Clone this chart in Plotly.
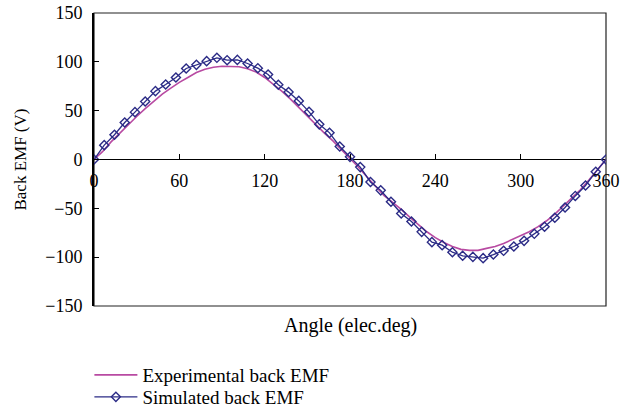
import plotly.graph_objects as go

# Simulated back EMF, sampled every 7.2 electrical degrees
sim_angle = [round(i * 7.2, 1) for i in range(51)]
sim_emf = [0, 14.7, 25.3, 37.9, 48.5, 59.4, 70.0, 76.8, 84.0, 93.2,
           96.9, 100.7, 104.1, 101.7, 102.0, 98.3, 93.5, 87.0, 76.5, 69.0,
           60.0, 48.8, 36.0, 27.3, 13.3, 2.7, -7.8, -23.0, -31.6, -43.3,
           -55.3, -63.5, -74.1, -84.6, -87.7, -94.9, -98.6, -99.7, -101.0, -97.3,
           -93.5, -89.1, -83.3, -76.1, -68.9, -59.7, -49.1, -37.3, -26.6, -12.6,
           0]

# Measured back EMF
exp_angle = list(range(0, 361, 6))
exp_emf = [0, 8, 18, 27, 36, 44, 52, 60, 67, 73,
           79, 84, 89, 92.5, 94.5, 95.5, 95.5, 95, 93, 89.5,
           84, 77, 70, 62, 53, 44, 36, 27, 19, 10,
           2, -8, -18, -28, -37, -44, -51, -59, -67, -74,
           -80, -85, -89, -92, -93, -93, -91, -89, -86, -82,
           -78, -74, -69, -63, -56, -48, -40, -31, -21, -10,
           0]

x_ticks = [0, 60, 120, 180, 240, 300, 360]
y_ticks = [-150, -100, -50, 0, 50, 100, 150]

FONT = "Liberation Serif"
MAGENTA = "#B84AA2"
NAVY = "#2B2B86"

fig = go.Figure()
fig.add_trace(go.Scatter(
    x=exp_angle, y=exp_emf, mode="lines", name="Experimental back EMF",
    line=dict(color=MAGENTA, width=1.6), legend="legend",
))
fig.add_trace(go.Scatter(
    x=sim_angle, y=sim_emf, mode="lines+markers", name="Simulated back EMF",
    line=dict(color=NAVY, width=1.3),
    marker=dict(symbol="diamond-open", size=7, color=NAVY, line=dict(width=1.4)),
    legend="legend2",
))

legend_common = dict(xanchor="left", yanchor="middle", bgcolor="rgba(0,0,0,0)",
                     font=dict(size=19), itemwidth=43)

fig.update_layout(
    width=620, height=414,
    margin=dict(l=94, r=14, t=13, b=108, autoexpand=False),
    paper_bgcolor="white", plot_bgcolor="white",
    font=dict(family=FONT, size=18, color="black"),
    showlegend=True,
    legend=dict(x=-0.009, y=-0.2355, **legend_common),
    legend2=dict(x=-0.009, y=-0.3106, **legend_common),
    xaxis=dict(
        range=[0, 360], tickvals=x_ticks, ticks="inside", ticklen=6,
        tickcolor="black", anchor="free", position=0.5,
        showgrid=False, zeroline=False, showline=False,
        ticklabelstandoff=8,
    ),
    yaxis=dict(
        range=[-150, 150], tickvals=y_ticks, ticks="inside", ticklen=5,
        tickcolor="black", showgrid=False, showline=True, linecolor="black",
        linewidth=2, zeroline=True, zerolinecolor="black", zerolinewidth=1.2,
        ticklabelstandoff=6,
    ),
    shapes=[dict(type="rect", xref="paper", yref="paper", x0=0, x1=1, y0=0, y1=1,
                 line=dict(color="#222", width=1.2), layer="below")],
    annotations=[
        dict(text="Angle (elec.deg)", xref="paper", yref="paper", x=0.5, y=-0.068,
             xanchor="center", yanchor="middle", showarrow=False, font=dict(size=20)),
        dict(text="Back EMF (V)", xref="paper", yref="paper", x=-0.1445, y=0.5,
             xanchor="center", yanchor="middle", textangle=-90, showarrow=False,
             font=dict(size=17)),
    ],
)

fig.write_html("out.html")
